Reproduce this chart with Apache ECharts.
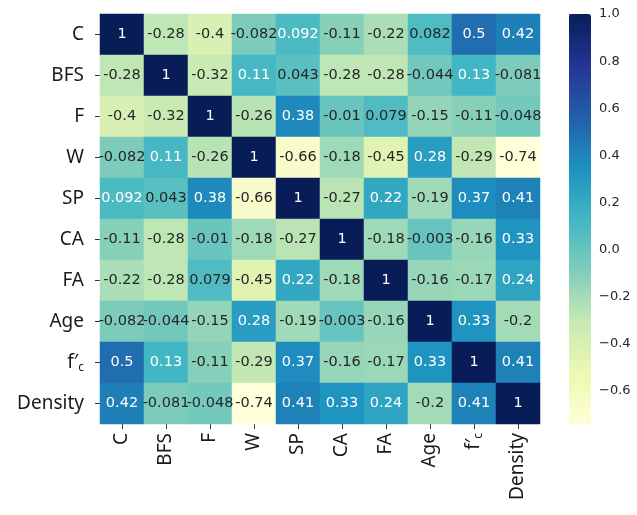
<!DOCTYPE html>
<html>
<head>
<meta charset="utf-8">
<script src="https://cdn.jsdelivr.net/npm/echarts@6/dist/echarts.min.js"></script>
<style>html,body{margin:0;padding:0;background:#fff;}#c{width:637px;height:515px;}</style>
</head>
<body>
<div id="c"></div>
<script>
const categories = ['C', 'BFS', 'F', 'W', 'SP', 'CA', 'FA', 'Age', 'fc', 'Density'];
const rowC       = [1, -0.28, -0.4, -0.082, 0.092, -0.11, -0.22, 0.082, 0.5, 0.42];
const rowBFS     = [-0.28, 1, -0.32, 0.11, 0.043, -0.28, -0.28, -0.044, 0.13, -0.081];
const rowF       = [-0.4, -0.32, 1, -0.26, 0.38, -0.01, 0.079, -0.15, -0.11, -0.048];
const rowW       = [-0.082, 0.11, -0.26, 1, -0.66, -0.18, -0.45, 0.28, -0.29, -0.74];
const rowSP      = [0.092, 0.043, 0.38, -0.66, 1, -0.27, 0.22, -0.19, 0.37, 0.41];
const rowCA      = [-0.11, -0.28, -0.01, -0.18, -0.27, 1, -0.18, -0.003, -0.16, 0.33];
const rowFA      = [-0.22, -0.28, 0.079, -0.45, 0.22, -0.18, 1, -0.16, -0.17, 0.24];
const rowAge     = [-0.082, -0.044, -0.15, 0.28, -0.19, -0.003, -0.16, 1, 0.33, -0.2];
const rowFc      = [0.5, 0.13, -0.11, -0.29, 0.37, -0.16, -0.17, 0.33, 1, 0.41];
const rowDensity = [0.42, -0.081, -0.048, -0.74, 0.41, 0.33, 0.24, -0.2, 0.41, 1];
const colorbarTicks = [-0.6, -0.4, -0.2, 0.0, 0.2, 0.4, 0.6, 0.8, 1.0];
const vMin = -0.74, vMax = 1.0;

const rows = [rowC, rowBFS, rowF, rowW, rowSP, rowCA, rowFA, rowAge, rowFc, rowDensity];
const data = [];
rows.forEach((r, yi) => r.forEach((v, xi) => data.push([xi, yi, v])));

const ylgnbu = ['#ffffd9','#edf8b1','#c7e9b4','#7fcdbb','#41b6c4','#1d91c0','#225ea8','#253494','#081d58'];
const labelFont = '"Noto Sans", "Open Sans", sans-serif';
const catFmt = v => v === 'fc' ? '{f|f′}{s|c}' : v;
const catRich = {
  f: {fontFamily: labelFont, fontSize: 19, color: '#1a1a1a'},
  s: {fontFamily: labelFont, fontSize: 12, color: '#1a1a1a', padding: [10, 0, 0, 0]}
};

const chart = echarts.init(document.getElementById('c'));
chart.setOption({
  backgroundColor: '#fff',
  animation: false,
  grid: [
    {left: 100, top: 14, width: 440, height: 410},
    {left: 569, top: 14, width: 22, height: 410}
  ],
  xAxis: [
    {type: 'category', data: categories, gridIndex: 0,
     axisLine: {show: false},
     axisTick: {show: true, alignWithLabel: true, length: 5, lineStyle: {color: '#333'}},
     axisLabel: {rotate: 90, margin: 9, fontFamily: labelFont, fontSize: 19, color: '#1a1a1a', formatter: catFmt, rich: catRich},
     splitLine: {show: false}},
    {type: 'value', gridIndex: 1, show: false, min: 0, max: 1}
  ],
  yAxis: [
    {type: 'category', data: categories, gridIndex: 0, inverse: true,
     axisLine: {show: false},
     axisTick: {show: true, alignWithLabel: true, length: 5, lineStyle: {color: '#333'}},
     axisLabel: {margin: 16, fontFamily: labelFont, fontSize: 19, color: '#1a1a1a', formatter: catFmt, rich: catRich},
     splitLine: {show: false}},
    {type: 'value', gridIndex: 1, position: 'right', min: vMin, max: vMax,
     axisLine: {show: false},
     splitLine: {show: false},
     axisTick: {show: true, length: 5, lineStyle: {color: '#333'}, customValues: colorbarTicks},
     axisLabel: {show: true, margin: 8, fontFamily: '"DejaVu Sans", sans-serif', fontSize: 13, color: '#262626',
                 customValues: colorbarTicks,
                 formatter: v => v.toFixed(1).replace('-', '\u2212')}}
  ],
  visualMap: {
    type: 'continuous', min: vMin, max: vMax, seriesIndex: 0,
    calculable: false, show: true, left: 569, top: 14, itemWidth: 22, itemHeight: 410,
    padding: 0, text: null, showLabel: false,
    inRange: {color: ylgnbu}
  },
  series: [{
    type: 'heatmap', xAxisIndex: 0, yAxisIndex: 0,
    data: data.map(d => ({value: d, label: {color: d[2] > 0.085 ? '#ffffff' : '#262626'}})),
    itemStyle: {borderWidth: 0},
    label: {
      show: true,
      fontFamily: '"DejaVu Sans", sans-serif', fontSize: 14.5,
      formatter: p => String(p.value[2]),
      color: '#262626'
    }
  }]
});
</script>
</body>
</html>
